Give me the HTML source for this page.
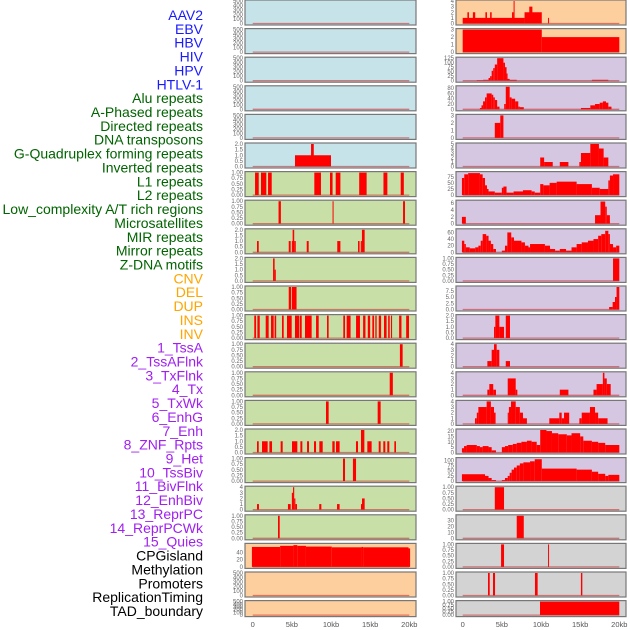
<!DOCTYPE html>
<html><head><meta charset="utf-8">
<style>
body{margin:0;background:#fff;width:630px;height:630px;overflow:hidden}
svg{display:block}
.lbl{font-family:"Liberation Sans",sans-serif;font-size:14px}
.tk{font-family:"Liberation Sans",sans-serif;font-size:6px;fill:#666}
.xt{font-family:"Liberation Sans",sans-serif;font-size:7.5px;fill:#555}
</style></head>
<body>
<svg id="chart" width="630" height="630"></svg>
<script>
const trackLabels=["AAV2","EBV","HBV","HIV","HPV","HTLV-1","Alu repeats","A-Phased repeats","Directed repeats","DNA transposons","G-Quadruplex forming repeats","Inverted repeats","L1 repeats","L2 repeats","Low_complexity A/T rich regions","Microsatellites","MIR repeats","Mirror repeats","Z-DNA motifs","CNV","DEL","DUP","INS","INV","1_TssA","2_TssAFlnk","3_TxFlnk","4_Tx","5_TxWk","6_EnhG","7_Enh","8_ZNF_Rpts","9_Het","10_TssBiv","11_BivFlnk","12_EnhBiv","13_ReprPC","14_ReprPCWk","15_Quies","CPGisland","Methylation","Promoters","ReplicationTiming","TAD_boundary"];
const labelColors=[[6,"#1a1aff"],[13,"#006400"],[5,"#ffa500"],[15,"#a020f0"],[5,"#000"]];
const xTicks=[0,5,10,15,20];
const xTickLabels=["0","5kb","10kb","15kb","20kb"];
const T500=["0","100","200","300","400","500"];
const T1=["0.00","0.25","0.50","0.75","1.00"];
const T2=["0.0","0.5","1.0","1.5","2.0"];
const T4=["0","1","2","3","4"];
// data segments: [startKb, endKb, value]
const aav2R=[[0,7.9,1],[7.9,10.1,2],[0.6,0.8,2],[1.3,1.6,2],[2.9,3.1,2],[3.5,3.7,2],[6.3,6.5,2],[6.5,6.6,4],[8.5,8.9,3],[10.9,11.0,1]];
const ebvR=[[0,10.1,3],[10.1,20,2]];
const hbvR=[[1.8,2.6,3],[2.6,3.3,5],[3.3,3.5,15],[3.5,3.7,25],[3.7,3.9,55],[3.9,4.1,70],[4.1,4.4,90],[4.4,5.2,125],[5.2,5.4,100],[5.4,5.6,75],[5.6,5.7,40],[5.7,6.0,10],[6.0,6.9,5],[16.5,18.6,5]];
const hivR=[[2.2,2.4,5],[2.4,2.6,15],[2.6,2.85,30],[2.85,3.06,45],[3.06,3.7,60],[3.7,3.9,55],[3.9,4.1,45],[4.1,4.4,35],[4.4,4.7,10],[5.3,5.5,20],[5.5,6.0,85],[6.0,6.25,45],[6.25,6.7,40],[6.7,7.1,30],[7.1,7.3,10],[7.3,7.8,8],[15.1,16.3,5],[16.3,16.9,15],[16.9,17.5,20],[17.5,17.9,25],[17.9,18.3,30],[18.3,18.6,25],[18.6,19.0,10]];
const hpvR=[[4.1,4.8,2],[4.8,5.2,3]];
const htlvL=[[5.4,10.0,1],[7.45,7.8,2]];
const htlvR=[[9.9,10.4,2],[10.4,11.5,1],[12.4,13.5,1],[14.9,15.1,1],[15.1,16.3,3],[16.3,17.4,5],[17.4,18.0,4],[18.0,18.6,2]];
const aluL=[[0.3,0.77,1],[1.06,1.74,1],[1.96,2.43,1],[7.87,8.72,1],[9.87,10.2,1],[10.6,11.2,1],[13.6,14.55,1],[16.7,17.2,1],[18.9,19.3,1]];
const aluR=[[-0.1,0.2,70],[0.2,0.7,85],[0.7,2.2,90],[2.2,2.55,85],[2.55,2.85,70],[2.85,3.1,40],[3.1,3.3,25],[3.3,4.1,15],[4.1,5.0,10],[5.0,5.2,30],[5.2,5.6,35],[5.6,6.5,10],[6.5,7.7,15],[7.7,8.8,20],[8.8,9.2,15],[9.2,9.9,10],[9.9,10.3,45],[10.3,11.1,40],[11.1,12.0,50],[12.0,14.55,55],[14.55,16.5,45],[16.5,17.5,30],[17.5,18.6,25],[18.6,18.8,60],[18.8,19.2,80],[19.2,20,85]];
const aphL=[[3.3,3.6,1],[10.2,10.3,1],[19.2,19.45,1]];
const aphR=[[-0.1,0.4,2],[16.9,17.6,2.5],[17.6,18.2,6.5],[18.2,18.4,5],[18.4,18.8,2.5]];
const dirL=[[0.55,0.77,1],[4.6,4.85,1],[5.0,5.1,1],[5.1,5.3,2],[5.3,5.5,1],[6.9,7.15,1],[10.8,11.2,1],[13.45,13.65,1],[13.8,13.95,1],[13.95,14.3,2]];
const dirR=[[-0.1,0.2,35],[0.2,0.4,25],[0.4,0.9,15],[0.9,1.6,12],[1.6,2.0,15],[2.0,2.3,20],[2.3,2.55,35],[2.55,3.0,55],[3.0,3.3,50],[3.3,3.6,35],[3.6,3.9,25],[3.9,4.25,10],[5.0,5.4,5],[5.4,5.7,20],[5.7,6.2,60],[6.2,6.55,45],[6.55,7.5,35],[7.5,7.95,30],[7.95,8.4,20],[8.4,8.6,15],[8.6,10.5,25],[10.5,11.15,20],[11.15,11.8,10],[11.8,12.4,5],[12.4,13.2,10],[13.2,13.9,5],[13.9,14.55,15],[14.55,15.2,25],[15.2,16.0,30],[16.0,16.7,35],[16.7,17.3,40],[17.3,17.7,50],[17.7,18.2,55],[18.2,18.6,65],[18.6,18.8,55],[18.8,19.2,25],[19.2,19.6,15],[19.6,20,20]];
const dnaL=[[2.6,2.8,2],[2.8,2.95,1]];
const dnaR=[[19.2,20,1]];
const gquadL=[[4.6,4.9,1],[5.0,5.6,1]];
const gquadR=[[18.7,19.15,1],[19.15,19.45,3],[19.45,19.65,5],[19.65,20,9]];
const invL=[[0.2,0.43,1],[0.6,0.9,1],[1.66,2.04,1],[2.34,2.68,1],[2.8,3.0,1],[3.74,3.96,1],[4.38,4.98,1],[5.4,5.96,1],[6.04,6.26,1],[6.68,7.53,1],[8.09,8.43,1],[9.49,9.7,1],[11.57,11.79,1],[12.0,12.5,1],[13.2,13.7,1],[14.1,14.4,1],[14.7,15.0,1],[15.28,15.5,1],[15.66,15.83,1],[16.1,16.4,1],[16.77,17.1,1],[17.3,17.5,1],[17.66,17.8,1],[18.7,19.0,1],[19.6,19.96,1]];
const invR=[[4.0,4.17,1],[4.17,4.68,2],[4.68,5.28,1],[5.5,6.04,2]];
const l1L=[[18.8,19.15,1]];
const l1R=[[3.15,3.7,1],[3.7,4.0,3],[4.0,4.34,4],[4.34,4.68,3],[5.5,6.04,1]];
const l2L=[[17.5,17.9,1]];
const l2R=[[3.15,3.4,1],[3.4,3.9,2],[3.9,4.25,1],[5.75,6.77,3],[6.77,6.98,1],[12.4,13.5,1],[16.7,17.1,1],[17.1,17.9,2],[17.9,18.1,4],[18.1,18.4,3],[18.4,18.9,2]];
const lowL=[[9.36,9.7,1],[15.96,16.34,1]];
const lowR=[[1.57,1.8,1],[1.8,2.0,2],[2.0,3.06,3],[3.06,3.6,4],[3.6,4.0,3],[4.0,4.2,2],[5.75,5.9,2],[5.9,6.17,3],[6.17,6.77,4],[6.77,7.3,3],[7.3,7.7,2],[7.7,8.2,1],[11.06,12.34,1],[12.34,12.64,2],[12.64,12.94,1],[12.94,13.6,2],[14.9,15.2,1],[15.2,16.25,2],[16.25,16.9,3],[16.9,17.3,2],[17.3,18.5,1]];
const microL=[[0.55,0.77,1],[1.19,1.91,1],[2.13,2.47,1],[3.57,3.83,1],[5.02,5.7,1],[6.09,6.34,1],[6.94,7.19,1],[7.83,8.09,1],[8.51,8.94,1],[10.17,10.47,1],[10.64,11.1,1],[13.19,13.45,1],[13.83,14.26,2],[14.64,15.19,1],[16.09,16.34,1],[16.68,16.94,1],[17.19,17.45,1],[18.09,18.3,1]];
const microR=[[-0.1,0.17,4],[0.17,0.5,6],[0.5,1.8,7],[1.8,2.2,6],[2.2,2.55,5],[2.55,3.3,6],[3.3,3.7,5],[3.7,4.25,2],[5.0,5.4,5],[5.4,5.8,6],[5.8,6.4,7],[6.4,6.9,8],[6.9,7.5,9],[7.5,8.2,10],[8.2,8.8,11],[8.8,9.45,10],[9.45,9.9,7],[9.9,10.7,21],[10.7,11.4,20],[11.4,12.2,18],[12.2,13.3,17],[13.3,13.9,16],[13.9,15.0,18],[15.0,15.4,15],[15.4,16.5,11],[16.5,17.3,10],[17.3,18.2,9],[18.2,20,7]];
const mirL=[[11.53,11.79,1],[12.8,13.2,1]];
const mirR=[[-0.1,2.85,33],[2.85,3.3,25],[3.3,3.7,15],[3.7,4.25,5],[5.0,5.4,5],[5.4,5.75,15],[5.75,6.0,25],[6.0,6.25,40],[6.25,6.55,55],[6.55,6.9,65],[6.9,7.3,75],[7.3,7.75,85],[7.75,8.6,90],[8.6,9.2,95],[9.2,10.1,105],[10.1,14.55,60],[14.55,16.5,55],[16.5,17.3,45],[17.3,18.2,35],[18.2,18.6,25],[18.6,20,30]];
const mirrorL=[[0.55,0.8,1],[4.5,4.85,1],[5.0,5.15,3],[5.15,5.3,4],[5.3,5.45,2],[5.45,5.66,1],[8.5,8.77,1],[10.77,11.1,1],[13.83,13.96,1],[13.96,14.3,2]];
const mirrorR=[[4.1,5.28,1]];
const zdnaL=[[3.23,3.45,1]];
const zdnaR=[[6.9,7.8,38]];
const cpgL=[[-0.1,3.5,55],[3.5,5.2,58],[5.2,5.7,60],[5.7,6.8,58],[6.8,10.1,56],[10.1,13.9,54],[13.9,14.1,55],[14.1,19.9,54],[19.9,20.1,51]];
const cpgR=[[4.9,5.28,1],[10.9,11.0,1]];
const methR=[[3.23,3.45,1],[3.87,4.13,1],[9.23,9.57,1],[15.1,15.28,1]];
const tadR=[[9.87,20,1]];
const BLUE="#c6e3ea",GREEN="#c8e0a7",ORANGE="#fecf9e",PURPLE="#d5c6e1",GREY="#d3d3d3";
const rows=[
 [[BLUE,T500,500,[]],[ORANGE,T4,4,aav2R]],
 [[BLUE,T500,500,[]],[ORANGE,["0","1","2","3"],3,ebvR]],
 [[BLUE,T500,500,[]],[PURPLE,["0","25","50","75","100","125"],125,hbvR]],
 [[BLUE,T500,500,[]],[PURPLE,["0","20","40","60","80"],85,hivR]],
 [[BLUE,T500,500,[]],[PURPLE,["0","1","2","3"],3,hpvR]],
 [[BLUE,T2,2,htlvL],[PURPLE,["0","1","2","3","4","5"],5,htlvR]],
 [[GREEN,T1,1,aluL],[PURPLE,["0","25","50","75"],92,aluR]],
 [[GREEN,T1,1,aphL],[PURPLE,["0","2","4","6"],6.6,aphR]],
 [[GREEN,T2,2,dirL],[PURPLE,["0","20","40","60"],68,dirR]],
 [[GREEN,T2,2,dnaL],[PURPLE,T1,1,dnaR]],
 [[GREEN,T1,1,gquadL],[PURPLE,["0.0","2.5","5.0","7.5"],9,gquadR]],
 [[GREEN,T1,1,invL],[PURPLE,T2,2,invR]],
 [[GREEN,T1,1,l1L],[PURPLE,T4,4,l1R]],
 [[GREEN,T1,1,l2L],[PURPLE,T4,4,l2R]],
 [[GREEN,T1,1,lowL],[PURPLE,T4,4,lowR]],
 [[GREEN,T2,2,microL],[PURPLE,["0","5","10","15","20"],21,microR]],
 [[GREEN,T1,1,mirL],[PURPLE,["0","25","50","75","100"],108,mirR]],
 [[GREEN,T4,4,mirrorL],[GREY,T1,1,mirrorR]],
 [[GREEN,T1,1,zdnaL],[GREY,["0","10","20","30"],38,zdnaR]],
 [[ORANGE,["0","20","40"],62,cpgL],[GREY,T1,1,cpgR]],
 [[ORANGE,T500,500,[]],[GREY,T1,1,methR]],
 [[ORANGE,T500,500,[]],[GREY,T1,1,tadR]]
];
const NS="http://www.w3.org/2000/svg";
const svg=document.getElementById('chart');
function mk(tag,attrs,parent){const e=document.createElementNS(NS,tag);for(const k in attrs)e.setAttribute(k,attrs[k]);(parent||svg).appendChild(e);return e;}
// labels
let li=0;
labelColors.forEach(([n,c])=>{for(let j=0;j<n;j++){
 const t=mk('text',{x:203,y:15+li*13.86+5,'text-anchor':'end',class:'lbl',fill:c});
 t.textContent=trackLabels[li];
 
 
 li++;}});
const cols=[{x0:245,x1:416,z:252.7},{x0:456,x1:626,z:462.7}];
const pxPerKb=7.83;
rows.forEach((row,r)=>{
 const top=r*28.6, h=(r===21?16:25);
 row.forEach((p,c)=>{
  const [bg,ticks,ymax,data]=p;const col=cols[c];
  const g=mk('g',{});
  
  
  mk('rect',{x:col.x0,y:top,width:col.x1-col.x0,height:h,fill:bg,stroke:'#777','stroke-width':1.2},g);
  const y0=top+h-1.5, y1=top+1;
  const ys=v=>y0-(v/ymax)*(y0-y1);
  const xs=k=>col.z+k*pxPerKb;
  data.forEach(d=>{
   const b=mk('rect',{x:xs(d[0]),y:ys(d[2]),width:Math.max(1,xs(d[1])-xs(d[0])),height:y0-ys(d[2]),fill:'#ff0000'},g);
   
   
  });
  mk('line',{x1:xs(0),x2:xs(20),y1:y0,y2:y0,stroke:'rgba(200,40,40,0.55)','stroke-width':1.3},g);
  ticks.forEach(tl=>{
   const t=mk('text',{x:col.x0-2,y:ys(parseFloat(tl))+2,'text-anchor':'end',class:'tk'},g);
   t.textContent=tl;
   
   
  });
  if(r===21){
   xTicks.forEach((v,i)=>{
    const t=mk('text',{x:xs(v),y:627,'text-anchor':'middle',class:'xt'});
    t.textContent=xTickLabels[i];
    
    
   });
  }
 });
});
</script>
</body></html>
